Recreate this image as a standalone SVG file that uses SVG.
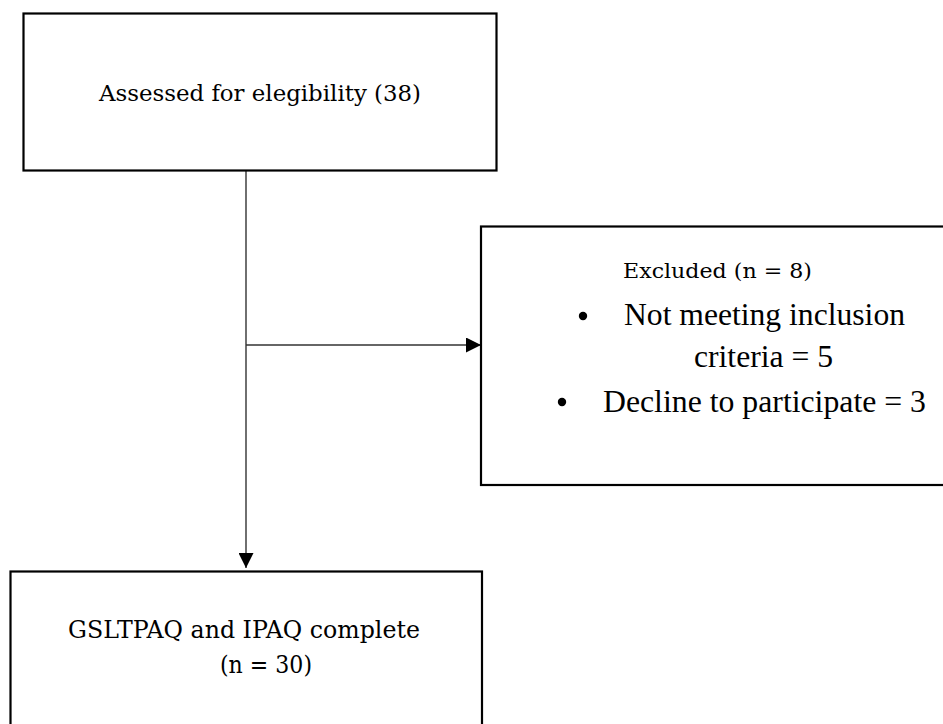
<svg xmlns="http://www.w3.org/2000/svg" width="943" height="724" viewBox="0 0 943 724">
  <style>
    .box { fill: #ffffff; stroke: #000000; stroke-width: 2.2; }
    .pal { font-family: "DejaVu Serif", "Liberation Serif", serif; fill: #000000; }
    .tms { font-family: "Liberation Serif", "Times New Roman", serif; fill: #000000; font-size: 32px; }
    .link { fill: none; stroke: #333333; stroke-width: 1.4; }
  </style>
  <defs>
    <marker id="arrow" markerWidth="15" markerHeight="15" refX="15" refY="7.5" orient="auto" markerUnits="userSpaceOnUse">
      <path d="M0,0 L15,7.5 L0,15 Z" fill="#000000"/>
    </marker>
  </defs>

  <rect width="943" height="724" fill="#ffffff"/>

  <g id="connectors">
    <line class="link" x1="246" y1="171" x2="246" y2="568" marker-end="url(#arrow)"/>
    <line class="link" x1="246" y1="345" x2="481" y2="345" marker-end="url(#arrow)"/>
  </g>

  <g id="assessed">
    <rect class="box" x="23.5" y="13.5" width="473" height="157"/>
    <text class="pal" x="99" y="101" font-size="23" textLength="322" lengthAdjust="spacingAndGlyphs">Assessed for elegibility (38)</text>
  </g>

  <g id="excluded">
    <rect class="box" x="481" y="226.5" width="480" height="258.5"/>
    <text class="pal" x="623" y="278" font-size="21" textLength="189" lengthAdjust="spacingAndGlyphs">Excluded (n = 8)</text>
    <circle cx="583" cy="316" r="4.2" fill="#000000"/>
    <text class="tms" x="624" y="325" textLength="281" lengthAdjust="spacingAndGlyphs">Not meeting inclusion</text>
    <text class="tms" x="694" y="367" textLength="139" lengthAdjust="spacingAndGlyphs">criteria = 5</text>
    <circle cx="562" cy="402" r="4.2" fill="#000000"/>
    <text class="tms" x="603" y="412" textLength="323" lengthAdjust="spacingAndGlyphs">Decline to participate = 3</text>
  </g>

  <g id="complete">
    <rect class="box" x="10.5" y="571.5" width="471.5" height="170"/>
    <text class="pal" x="68" y="638" font-size="24" textLength="352" lengthAdjust="spacingAndGlyphs">GSLTPAQ and IPAQ complete</text>
    <text class="pal" x="220" y="673" font-size="24" textLength="92" lengthAdjust="spacingAndGlyphs">(n = 30)</text>
  </g>
</svg>
